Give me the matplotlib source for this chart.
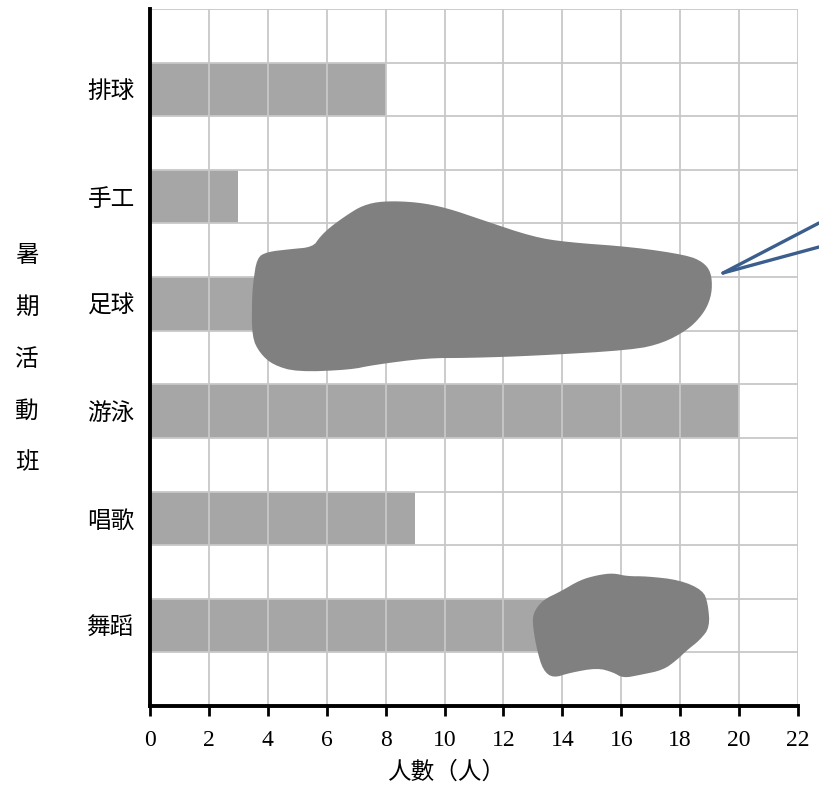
import numpy as np
import matplotlib
matplotlib.use("Agg")
import matplotlib.pyplot as plt
from matplotlib.patches import Polygon
from matplotlib.lines import Line2D

# 資料
categories = ['排球', '手工', '足球', '游泳', '唱歌', '舞蹈']
counts = [8, 3, 15, 20, 9, 16]          # 足球、舞蹈 被墨跡遮住
x_ticks = list(range(0, 23, 2))

# 墨跡輪廓（資料座標）
blob_big_x = [3.46, 3.50, 3.63, 3.97, 4.75, 5.53, 5.77, 6.11, 6.69, 7.23, 7.91, 9.06,
              10.08, 11.31, 13.00, 14.16, 16.40, 18.23, 18.78, 19.05, 19.09, 18.95,
              18.67, 18.23, 17.42, 16.40, 13.00, 10.76, 9.40, 7.57, 6.79, 4.99, 4.18,
              3.73, 3.46]
blob_big_y = [7.57, 7.89, 8.36, 8.47, 8.52, 8.56, 8.75, 8.93, 9.16, 9.34, 9.42, 9.40,
              9.29, 9.06, 8.75, 8.65, 8.56, 8.41, 8.28, 8.09, 7.76, 7.48, 7.24, 7.01,
              6.77, 6.64, 6.53, 6.49, 6.49, 6.36, 6.27, 6.23, 6.36, 6.58, 6.88]
blob_small_x = [13.00, 13.34, 13.92, 14.60, 15.18, 15.72, 16.19, 16.87, 17.99, 18.77,
                18.94, 19.01, 18.67, 18.23, 17.89, 17.42, 16.64, 16.06, 15.72, 15.18,
                14.26, 13.68, 13.34, 13.14, 13.00]
blob_small_y = [1.73, 1.98, 2.13, 2.35, 2.44, 2.48, 2.42, 2.42, 2.35, 2.16, 1.92, 1.47,
                1.23, 1.04, 0.86, 0.67, 0.58, 0.52, 0.63, 0.71, 0.62, 0.52, 0.67, 1.04,
                1.47]


def chaikin(xs, ys, n=2):
    pts = np.column_stack([xs, ys])
    for _ in range(n):
        q = np.roll(pts, -1, axis=0)
        pts = np.column_stack([0.75 * pts + 0.25 * q, 0.25 * pts + 0.75 * q]).reshape(-1, 2)
    return pts


plt.rcParams['font.family'] = ['Noto Sans CJK TC', 'DejaVu Sans']

fig = plt.figure(figsize=(8.19, 7.88), dpi=100)
ax = fig.add_axes([150 / 819, 1 - 706 / 788, 648 / 819, 697 / 788])

n = len(categories)
ypos = [2 * (n - 1 - i) + 1.5 for i in range(n)]
ax.barh(ypos, counts, height=1.0, color='#a6a6a6', zorder=1)

# 格線畫在長條上面
for xv in x_ticks:
    ax.axvline(xv, color='#c8c8c8', lw=1.3, zorder=2)
for yv in range(0, 14):
    ax.axhline(yv, color='#c8c8c8', lw=1.3, zorder=2)

# 墨跡
for bx, by in [(blob_big_x, blob_big_y), (blob_small_x, blob_small_y)]:
    ax.add_patch(Polygon(chaikin(bx, by), closed=True, facecolor='#808080',
                         edgecolor='none', zorder=5))

ax.set_xlim(0, 22)
ax.set_ylim(0, 13)
ax.set_xticks(x_ticks)
ax.set_xticklabels([str(v) for v in x_ticks], family='Liberation Serif', fontsize=17)
ax.set_yticks(ypos)
ax.set_yticklabels(categories, fontsize=17)
ax.tick_params(axis='y', length=0, pad=11)
ax.tick_params(axis='x', length=7, width=2, color='black', pad=10)

for side in ['top', 'right']:
    ax.spines[side].set_visible(False)
ax.spines['left'].set_linewidth(2.8)
ax.spines['bottom'].set_linewidth(2.8)
ax.spines['left'].set_zorder(6)
ax.spines['bottom'].set_zorder(6)

ax.set_xlabel('人數（人）', fontsize=17)
ax.xaxis.set_label_coords((447 - 150) / 648, -(772 - 706) / 697)
ax.xaxis.label.set_va('center')

# 直排的 y 軸標題
for k, ch in enumerate('暑期活動班'):
    fig.text(27 / 819, 1 - (255 + 52 * k) / 788, ch, fontsize=17,
             ha='center', va='center')

# 右側藍色指示線
x0, y0 = 723 / 819, 1 - 273 / 788
for y1 in [223, 247]:
    fig.add_artist(Line2D([x0, 1.0], [y0, 1 - y1 / 788], transform=fig.transFigure,
                          color='#3b5e8c', lw=2.4, solid_capstyle='round'))

fig.savefig('out.png', dpi=100)
